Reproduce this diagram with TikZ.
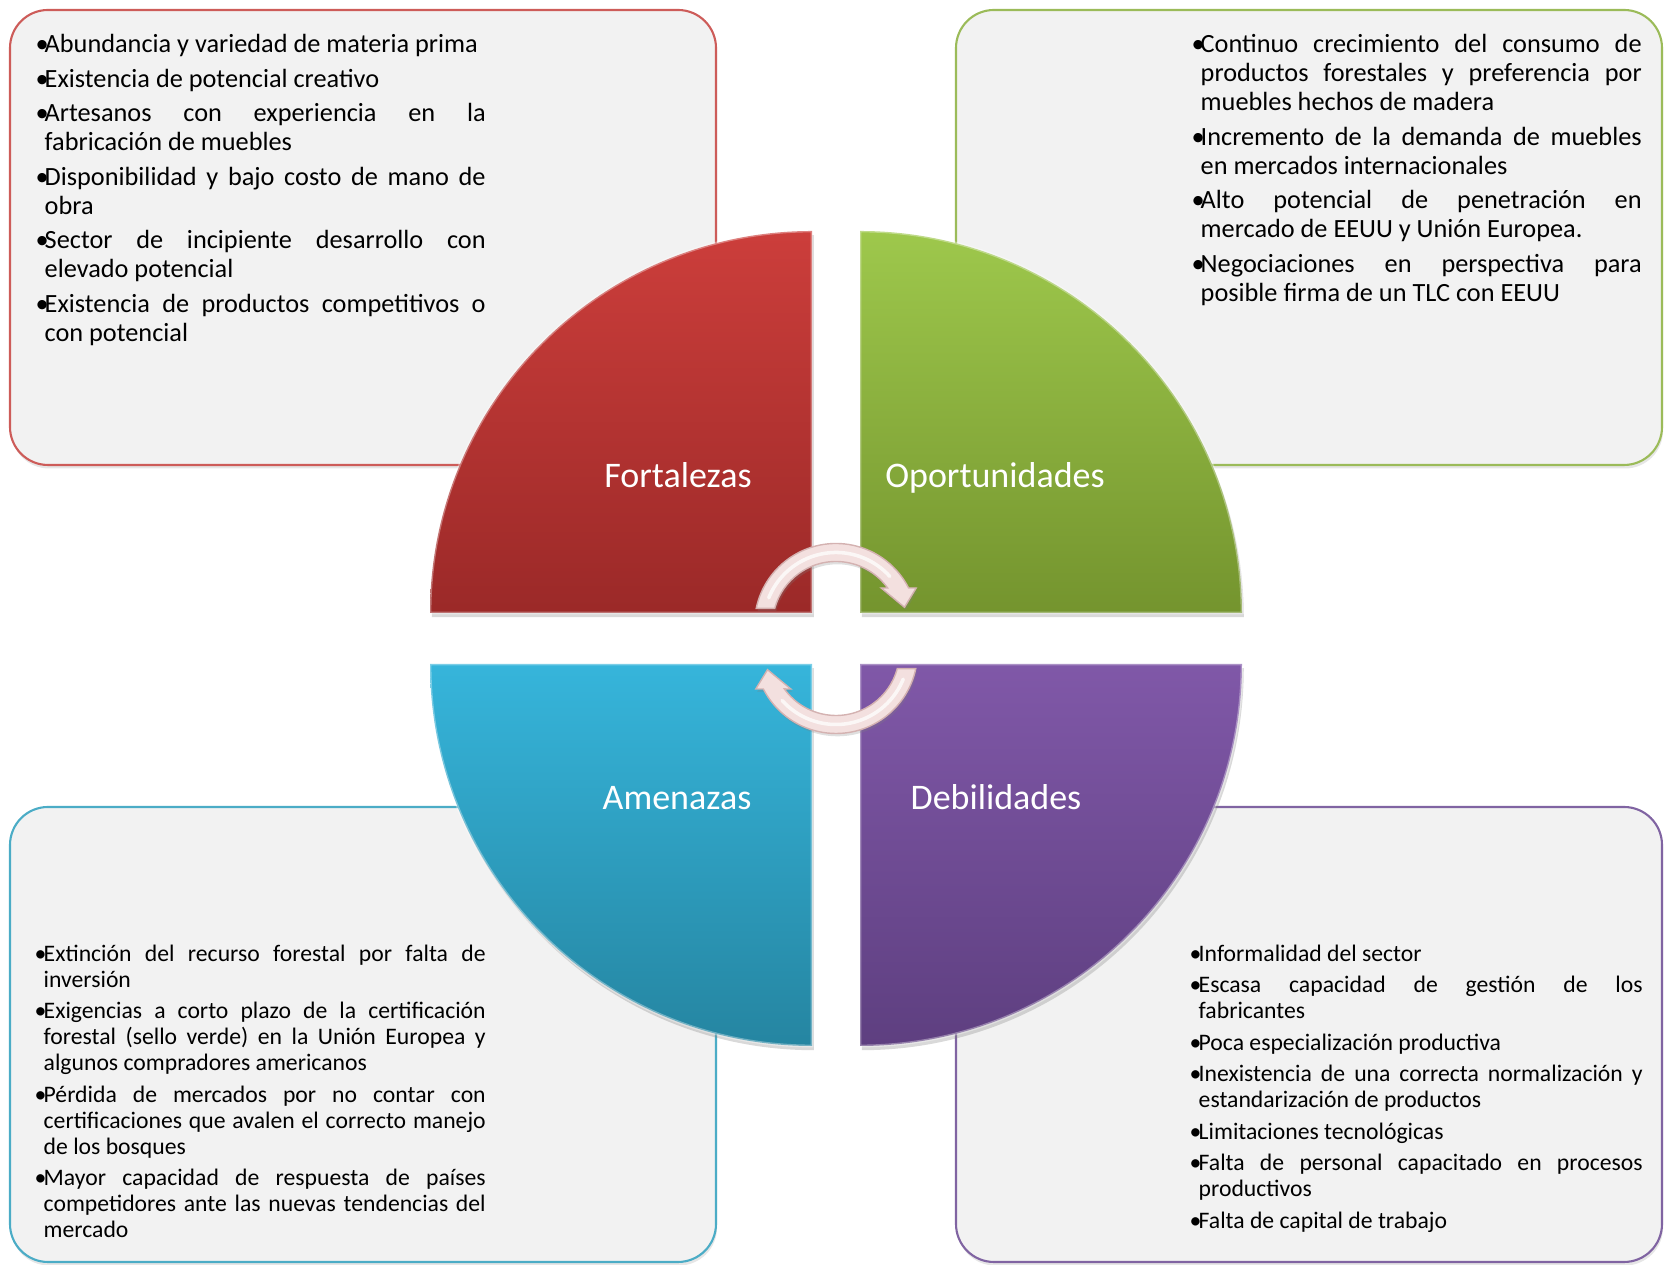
\documentclass[tikz,border=0pt]{standalone}
\usepackage{fontspec}
\setmainfont{Carlito}
\usetikzlibrary{shadows}

\definecolor{boxgray}{RGB}{242,242,242}
\definecolor{fortred}{RGB}{205,92,89}
\definecolor{opgreen}{RGB}{155,187,89}
\definecolor{amenblue}{RGB}{75,172,198}
\definecolor{debpurple}{RGB}{128,100,162}
\definecolor{forttop}{RGB}{204,62,59}
\definecolor{fortbot}{RGB}{155,41,40}
\definecolor{optop}{RGB}{158,200,76}
\definecolor{opbot}{RGB}{116,148,46}
\definecolor{amentop}{RGB}{54,181,219}
\definecolor{amenbot}{RGB}{37,133,161}
\definecolor{debtop}{RGB}{128,88,168}
\definecolor{debbot}{RGB}{94,63,128}
\definecolor{arrowpink}{RGB}{243,224,223}
\definecolor{arrowedge}{RGB}{212,178,177}

\newlength{\bulletw}
\setlength{\bulletw}{0.09cm}
\newcommand{\toptext}{\fontsize{7.48pt}{8.25pt}\selectfont}
\newcommand{\bottext}{\fontsize{6.74pt}{7.4pt}\selectfont}
\newcommand{\itm}{\unskip\par\setlength{\parskip}{1.56pt}\spaceskip=0.226em plus 0.8em minus 0.07em
	\tolerance=10000\hyphenpenalty=10000\hangindent=\bulletw\hangafter=1
	\noindent\makebox[\bulletw][l]{•}\strut}

\begin{document}
\begin{tikzpicture}[
	swotbox/.style={ rounded corners=0.38cm, fill=boxgray, line width=0.6pt, drop shadow={shadow xshift=0.3pt, shadow yshift=-1pt, opacity=0.2} },
	quadrant/.style={ draw=white, draw opacity=0.35, line width=0.8pt, drop shadow={shadow xshift=0.5pt, shadow yshift=-1.2pt, opacity=0.3} },
	quadlabel/.style={ text=white, font=\fontsize{10.24pt}{12pt}\selectfont, anchor=base, inner sep=0pt },
	itemlist/.style={ anchor=north west, inner sep=0pt, text width=#1, align=justify },
	cyclearrow/.style={ fill=arrowpink, draw=arrowedge, line width=0.4pt, drop shadow={shadow xshift=0.4pt, shadow yshift=-0.8pt, opacity=0.25} }
]
	\useasboundingbox (0,0) rectangle (16.65,12.65);

	\draw[swotbox, draw=fortred] (0.10,8.00) rectangle (7.16,12.55);
	\draw[swotbox, draw=opgreen] (9.56,8.00) rectangle (16.62,12.55);
	\draw[swotbox, draw=amenblue] (0.10,0.03) rectangle (7.16,4.58);
	\draw[swotbox, draw=debpurple] (9.56,0.03) rectangle (16.62,4.58);

	\foreach \cx/\cy/\a/\col in {8.12/6.52/90/fort, 8.60/6.52/0/op, 8.12/6.01/180/amen, 8.60/6.01/270/deb} {
		\draw[quadrant, top color=\col top, bottom color=\col bot] (\cx,\cy) -- ++(\a:3.82) arc[start angle=\a, end angle=\a+90, radius=3.82] -- cycle;
	}

	\foreach \ang/\oy in {0/6.40,180/6.13} {
		\begin{scope}[shift={(8.36,\oy)}, rotate=\ang]
			\draw[cyclearrow] (168.2:0.815) arc[start angle=168.2, end angle=27, radius=0.815] -- (0.802,0.37) -- (0.685,0.177) -- (0.452,0.37) -- (35.6:0.635) arc[start angle=35.6, end angle=164.8, radius=0.635] -- cycle;
			\draw[white, opacity=0.75, line width=1pt, line cap=round] (158:0.725) arc[start angle=158, end angle=42, radius=0.725];
		\end{scope}
	}

	\node[quadlabel] (fortalezas) at (6.78,7.77) {Fortalezas};
	\node[quadlabel] (oportunidades) at (9.95,7.775) {Oportunidades};
	\node[quadlabel] (amenazas) at (6.77,4.557) {Amenazas};
	\node[quadlabel] (debilidades) at (9.96,4.557) {Debilidades};

	\node[itemlist=4.50cm, font=\toptext] (fortlist) at (0.35,12.474) {
		\itm Abundancia y variedad de materia prima
		\itm Existencia de potencial creativo
		\itm Artesanos con experiencia en la\linebreak fabricación de muebles
		\itm Disponibilidad y bajo costo de mano de\linebreak obra
		\itm Sector de incipiente desarrollo con\linebreak elevado potencial
		\itm Existencia de productos competitivos o\linebreak con potencial\par
	};
	\node[itemlist=4.50cm, font=\toptext] (oplist) at (11.91,12.474) {
		\itm Continuo crecimiento del consumo de\linebreak productos forestales y preferencia por\linebreak muebles hechos de madera
		\itm Incremento de la demanda de muebles\linebreak en mercados internacionales
		\itm Alto potencial de penetración en\linebreak mercado de EEUU y Unión Europea.
		\itm Negociaciones en perspectiva para\linebreak posible firma de un TLC con EEUU\par
	};
	\node[itemlist=4.51cm, font=\bottext] (amenlist) at (0.34,3.36) {
		\itm Extinción del recurso forestal por falta de\linebreak inversión
		\itm Exigencias a corto plazo de la certificación\linebreak forestal (sello verde) en la Unión Europea y\linebreak algunos compradores americanos
		\itm Pérdida de mercados por no contar con\linebreak certificaciones que avalen el correcto manejo\linebreak de los bosques
		\itm Mayor capacidad de respuesta de países\linebreak competidores ante las nuevas tendencias del\linebreak mercado\par
	};
	\node[itemlist=4.53cm, font=\bottext] (deblist) at (11.89,3.36) {
		\itm Informalidad del sector
		\itm Escasa capacidad de gestión de los\linebreak fabricantes
		\itm Poca especialización productiva
		\itm Inexistencia de una correcta normalización y\linebreak estandarización de productos
		\itm Limitaciones tecnológicas
		\itm Falta de personal capacitado en procesos\linebreak productivos
		\itm Falta de capital de trabajo\par
	};

\end{tikzpicture}
\end{document}
